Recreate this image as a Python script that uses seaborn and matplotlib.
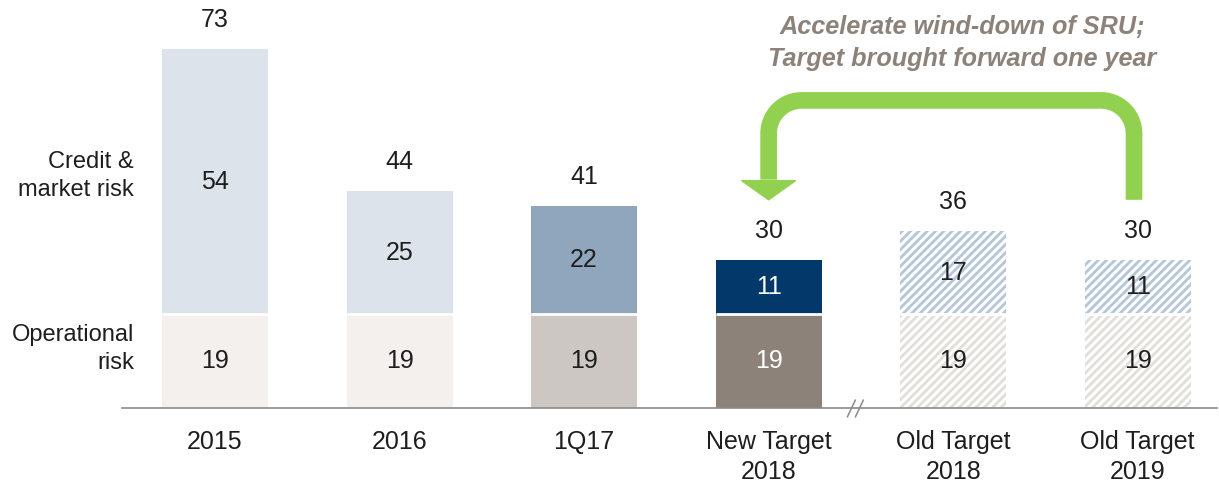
import numpy as np
import matplotlib
matplotlib.use("Agg")
import matplotlib.pyplot as plt
from matplotlib.transforms import IdentityTransform
from matplotlib.patches import Polygon
import seaborn as sns

# Data (RWA, bn)
categories = ["2015", "2016", "1Q17", "New Target\n2018", "Old Target\n2018", "Old Target\n2019"]
credit_market = [54, 25, 22, 11, 17, 11]
operational = [19, 19, 19, 19, 19, 19]
totals = [73, 44, 41, 30, 36, 30]

# Colours per bar
credit_colors = ["#dce3ea", "#dce3ea", "#8fa6bc", "#03386a", "#ffffff", "#ffffff"]
op_colors = ["#f3f0ed", "#f3f0ed", "#ccc7c2", "#8c8279", "#ffffff", "#ffffff"]
hatched = [False, False, False, False, True, True]
credit_hatch = "#b4c6d8"
op_hatch = "#e2ded9"
green = "#92d050"

sns.set_style("white")
plt.rcParams['font.family'] = ['Liberation Sans', 'DejaVu Sans']
plt.rcParams['hatch.linewidth'] = 2.0

fig = plt.figure(figsize=(12.19, 4.86), dpi=100)
ax = fig.add_axes([0.1001, 0.1605, 0.8983, 0.8395])

bar_w = 0.575
# stacked bars: totals first, operational drawn over the bottom part
sns.barplot(x=categories, y=totals, hue=categories, palette=credit_colors,
            width=bar_w, saturation=1, legend=False, ax=ax)
sns.barplot(x=categories, y=operational, hue=categories, palette=op_colors,
            width=bar_w, saturation=1, legend=False, ax=ax)

n = len(categories)
for i in range(n):
    p_top = ax.patches[i]
    p_op = ax.patches[n + i]
    p_top.set_linewidth(0)
    p_op.set_linewidth(0)
    if hatched[i]:
        p_top.set_hatch("////")
        p_top.set_edgecolor(credit_hatch)
        p_op.set_hatch("////")
        p_op.set_edgecolor(op_hatch)
    # white gap between segments
    ax.hlines(operational[i], i - bar_w / 2, i + bar_w / 2, color="white", lw=2, zorder=3)

txt = "#1e1e1e"
fs = 18
for i in range(n):
    col = "white" if i == 3 else txt
    ax.text(i, operational[i] + credit_market[i] / 2, str(credit_market[i]),
            ha="center", va="center", fontsize=fs, color=col, zorder=4)
    ax.text(i, operational[i] / 2, str(operational[i]),
            ha="center", va="center", fontsize=fs, color=col, zorder=4)
    ax.annotate(str(totals[i]), (i, totals[i]), xytext=(0, 21), textcoords="offset points",
                ha="center", va="center", fontsize=fs, color=txt)

ax.set_xlim(-0.504, 5.43)
ax.set_ylim(0, 82.9)
ax.set_yticks([])
ax.set_xlabel("")
ax.set_ylabel("")
ax.tick_params(axis="x", length=0, pad=16, labelsize=fs, labelcolor=txt)
for lab in ax.get_xticklabels():
    lab.set_linespacing(1.3)
sns.despine(ax=ax, left=True)
ax.spines["bottom"].set_color("#8a8a8a")
ax.spines["bottom"].set_linewidth(1.2)

# row labels on the left
ax.text(-0.44, 47.2, "Credit &\nmarket risk", ha="right", va="center",
        fontsize=17, color=txt, linespacing=1.35)
ax.text(-0.44, 12.0, "Operational\nrisk", ha="right", va="center",
        fontsize=17, color=txt, linespacing=1.35)

# annotation text
ax.text(4.047, 74.2, "Accelerate wind-down of SRU;\nTarget brought forward one year",
        ha="center", va="center", fontsize=18.2, style="italic", weight="bold",
        color="#8c8279", linespacing=1.45)

# green bent arrow (built in pixel space so the corners stay round)
T = ax.transData
xl, ybase = T.transform((3.0, 46.2))
xr, ybot = T.transform((4.98, 42.3))
_, ytop = T.transform((0, 62.5))
_, ytip = T.transform((0, 42.3))
r = 33
a1 = np.linspace(0, np.pi / 2, 20)
a2 = np.linspace(np.pi / 2, np.pi, 20)
xs = np.concatenate([[xr], xr - r + r * np.cos(a1), xl + r + r * np.cos(a2), [xl]])
ys = np.concatenate([[ybot], ytop - r + r * np.sin(a1), ytop - r + r * np.sin(a2), [ybase + 1]])
ax.plot(xs, ys, color=green, lw=12, solid_capstyle="butt", solid_joinstyle="round",
        transform=IdentityTransform(), clip_on=False)
head = Polygon([(xl - 27, ybase), (xl + 27, ybase), (xl, ytip)], closed=True,
               color=green, transform=IdentityTransform(), clip_on=False)
ax.add_patch(head)

# axis break marks
bx, by = T.transform((3.47, 0))
for dx in (-4, 4):
    ax.plot([bx + dx - 4, bx + dx + 4], [by - 9, by + 8], color="#8a8a8a", lw=1.1,
            transform=IdentityTransform(), clip_on=False)

fig.savefig("out.png", dpi=100)
